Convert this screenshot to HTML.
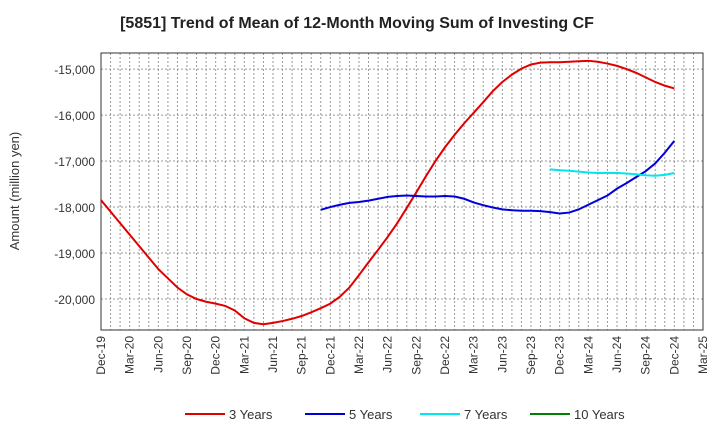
<!DOCTYPE html>
<html><head><meta charset="utf-8"><style>
body{margin:0;background:#fff;font-family:"Liberation Sans",sans-serif;}
svg text{font-family:"Liberation Sans",sans-serif;}
</style></head><body>
<svg id="c" width="720" height="440" xmlns="http://www.w3.org/2000/svg">
<text x="357" y="28" text-anchor="middle" font-size="16" font-weight="bold" fill="#222">[5851]  Trend of Mean of 12-Month Moving Sum of Investing CF</text>
<text transform="translate(19,191) rotate(-90)" text-anchor="middle" font-size="13" fill="#333">Amount (million yen)</text>
<g id="grid"></g><g id="axes"></g><g id="series"></g><g id="legend"></g>
</svg>
<script>
const xLabels=["Dec-19","Mar-20","Jun-20","Sep-20","Dec-20","Mar-21","Jun-21","Sep-21","Dec-21","Mar-22","Jun-22","Sep-22","Dec-22","Mar-23","Jun-23","Sep-23","Dec-23","Mar-24","Jun-24","Sep-24","Dec-24","Mar-25"];
const yTicks=[-15000,-16000,-17000,-18000,-19000,-20000];
const s3=[-17850,-18100,-18350,-18600,-18850,-19100,-19350,-19550,-19750,-19900,-20000,-20060,-20100,-20150,-20250,-20420,-20520,-20550,-20520,-20480,-20430,-20370,-20290,-20200,-20100,-19950,-19750,-19480,-19200,-18930,-18650,-18350,-18020,-17680,-17330,-17000,-16700,-16430,-16180,-15950,-15720,-15480,-15280,-15120,-14990,-14900,-14860,-14850,-14850,-14840,-14830,-14820,-14840,-14880,-14930,-15000,-15080,-15180,-15280,-15360,-15420];
const s5start=23;
const s5=[-18060,-18000,-17950,-17910,-17890,-17860,-17820,-17780,-17760,-17750,-17760,-17770,-17770,-17760,-17770,-17820,-17900,-17960,-18010,-18050,-18070,-18080,-18080,-18090,-18110,-18140,-18120,-18050,-17950,-17850,-17750,-17600,-17480,-17350,-17220,-17050,-16820,-16560];
const s7start=47;
const s7=[-17180,-17200,-17210,-17230,-17250,-17260,-17260,-17260,-17270,-17290,-17310,-17320,-17300,-17260];
const NS="http://www.w3.org/2000/svg";
const L=101,R=703,T=53,B=330,yMin=-20674,yMax=-14650;
const xm=m=>L+(R-L)*m/63;
const y=v=>B-(v-yMin)/(yMax-yMin)*(B-T);
function el(t,a,p){const e=document.createElementNS(NS,t);for(const k in a)e.setAttribute(k,a[k]);document.getElementById(p).appendChild(e);return e;}
for(let m=1;m<63;m++){const g=el('line',{x1:xm(m),x2:xm(m),y1:T,y2:B,stroke:'#999','stroke-dasharray':'2,2','stroke-width':1},'grid');

}
yTicks.forEach(v=>{const g=el('line',{x1:L,x2:R,y1:y(v),y2:y(v),stroke:'#999','stroke-dasharray':'2,2'},'grid');


const t=el('text',{x:L-6,y:y(v)+5,'text-anchor':'end','font-size':12,fill:'#333'},'axes');t.textContent=v.toLocaleString('en-US');

});
const fr=el('rect',{x:L,y:T,width:R-L,height:B-T,fill:'none',stroke:'#333'},'axes');


xLabels.forEach((s,i)=>{const x=xm(i*3);const t=el('text',{transform:`translate(${x+4},${B+6}) rotate(-90)`,'text-anchor':'end','font-size':12,fill:'#333'},'axes');t.textContent=s;

});
function line(data,start,color,name){const p=el('polyline',{points:data.map((v,i)=>xm(start+i)+','+y(v)).join(' '),fill:'none',stroke:color,'stroke-width':2},'series');

}
line(s3,0,'#e00000','series-3-years');
line(s5,s5start,'#0000dd','series-5-years');
line(s7,s7start,'#00e5ee','series-7-years');
[["3 Years","#e00000",185],["5 Years","#0000dd",305],["7 Years","#00e5ee",420],["10 Years","#008000",530]].forEach(([n,c,x])=>{
const l=el('line',{x1:x,x2:x+40,y1:414,y2:414,stroke:c,'stroke-width':2},'legend');


const t=el('text',{x:x+44,y:419,'font-size':13,fill:'#333'},'legend');t.textContent=n;

});
</script>
</body></html>
